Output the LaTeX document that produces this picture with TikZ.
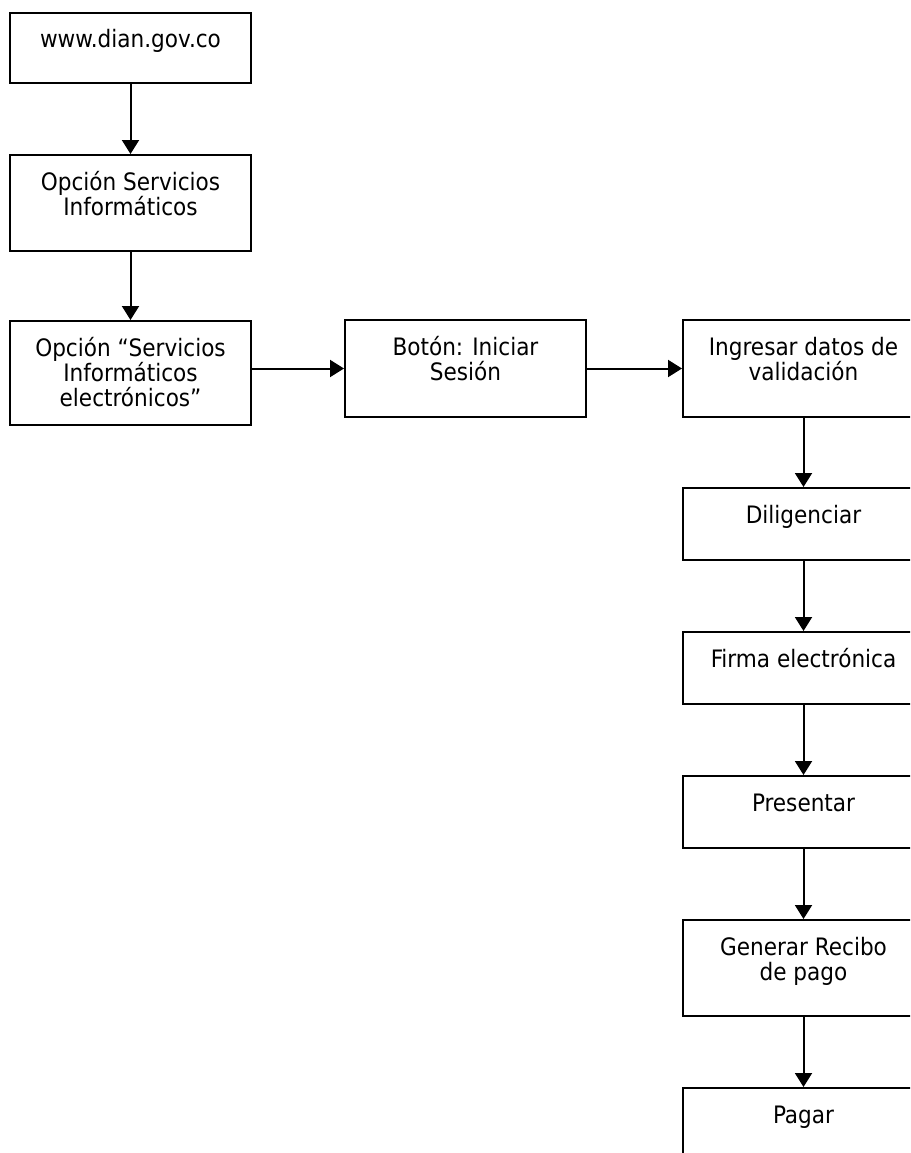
\documentclass[tikz,border=0pt]{standalone}
\usepackage{fontspec}
\setmainfont{DejaVu Sans Condensed}
\usetikzlibrary{arrows.meta}
\newcommand{\boxtext}[2]{\parbox[c][#1pt][t]{225pt}{\centering\rule{0pt}{35pt}#2}}
\tikzset{
  box/.style={draw, line width=2pt, inner xsep=8pt, inner ysep=0pt, anchor=north west,
    font=\fontsize{24pt}{25pt}\selectfont},
  arr/.style={line width=2pt, -{Triangle[length=14pt,width=17pt]}}
}
\begin{document}
\begin{tikzpicture}[x=1pt,y=-1pt]
  \useasboundingbox (0,0) rectangle (910,1153);
  \clip (0,0) rectangle (910,1153);
  % left column
  \node[box] (n1) at (9,12) {\boxtext{70}{www.dian.gov.co}};
  \node[box] (n2) at (9,154) {\boxtext{96}{Opción Servicios\\Informáticos}};
  \node[box] (n3) at (9,320) {\boxtext{104}{Opción “Servicios\\Informáticos\\electrónicos”}};
  % middle
  \node[box] (n4) at (344,319) {\boxtext{97}{Botón: Iniciar\\Sesión}};
  % right column
  \node[box] (n5) at (682,319) {\boxtext{97}{Ingresar datos de\\validación}};
  \node[box] (n6) at (682,487) {\boxtext{72}{Diligenciar}};
  \node[box] (n7) at (682,631) {\boxtext{72}{Firma electrónica}};
  \node[box] (n8) at (682,775) {\boxtext{72}{Presentar}};
  \node[box] (n9) at (682,919) {\boxtext{96}{Generar Recibo\\de pago}};
  \node[box] (n10) at (682,1087) {\boxtext{72}{Pagar}};

  \draw[arr] (n1.south) -- (n2.north);
  \draw[arr] (n2.south) -- (n3.north);
  \draw[arr] (n3.east |- n4.west) -- (n4.west);
  \draw[arr] (n4.east) -- (n5.west);
  \draw[arr] (n5.south) -- (n6.north);
  \draw[arr] (n6.south) -- (n7.north);
  \draw[arr] (n7.south) -- (n8.north);
  \draw[arr] (n8.south) -- (n9.north);
  \draw[arr] (n9.south) -- (n10.north);
\end{tikzpicture}
\end{document}
